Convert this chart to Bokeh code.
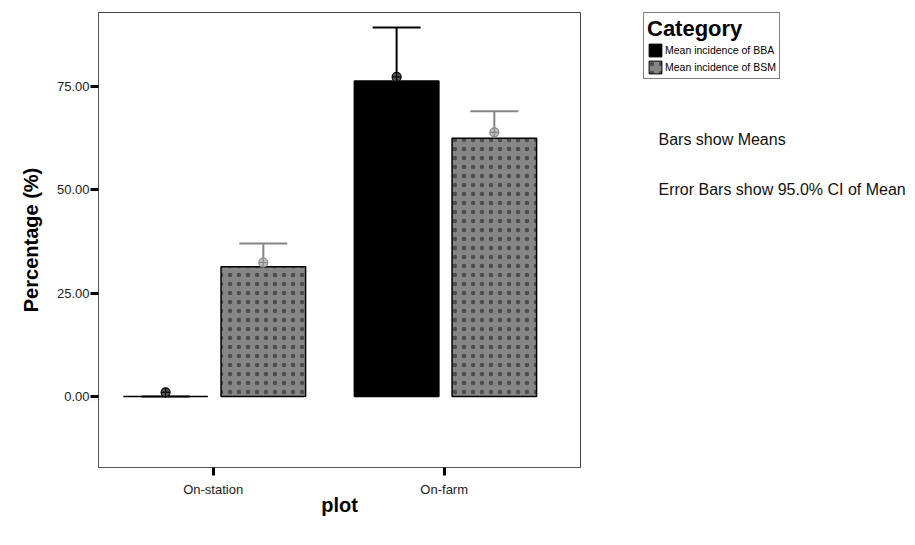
from bokeh.plotting import figure
from bokeh.layouts import row
from bokeh.models import (ColumnDataSource, FixedTicker, Legend, LegendItem, Label,
                          NumeralTickFormatter, Range1d)
from bokeh.embed import file_html
from bokeh.resources import INLINE

# ---- data ----
categories = ["On-station", "On-farm"]
cat_pos = [1, 2]
bba_mean = [0.0, 76.3]
bsm_mean = [31.4, 62.5]
bba_upper = [0.0, 89.3]
bsm_upper = [37.0, 69.0]
bba_marker = [1.0, 77.3]
bsm_marker = [32.4, 63.9]
y_ticks = [0, 25, 50, 75]
series_labels = ["Mean incidence of BBA", "Mean incidence of BSM"]
notes = ["Bars show Means", "Error Bars show 95.0% CI of Mean"]

# ---- styles ----
BAR_W = 0.366
CAP_W = 0.208
OFF_BBA = -0.206
OFF_BSM = 0.217
GREY = "#868686"
FONT = "Liberation Sans"
HATCH = dict(hatch_pattern="dot", hatch_color="#262626", hatch_alpha=0.6, hatch_scale=9)

bba_x = [c + OFF_BBA for c in cat_pos]
bsm_x = [c + OFF_BSM for c in cat_pos]

src_bba = ColumnDataSource(dict(x=bba_x, top=bba_mean, up=bba_upper, mk=bba_marker,
                                x0=[x - CAP_W / 2 for x in bba_x], x1=[x + CAP_W / 2 for x in bba_x]))
src_bsm = ColumnDataSource(dict(x=bsm_x, top=bsm_mean, up=bsm_upper, mk=bsm_marker,
                                x0=[x - CAP_W / 2 for x in bsm_x], x1=[x + CAP_W / 2 for x in bsm_x]))

p = figure(width=600, height=540, output_backend="svg", toolbar_location=None,
           x_range=Range1d(0.5035, 2.590), y_range=Range1d(-17.2, 92.9),
           min_border_left=98, min_border_right=20, min_border_top=12, min_border_bottom=73)
p.background_fill_color = "white"
p.border_fill_color = "white"
p.outline_line_color = "#444444"
p.outline_line_width = 1
p.grid.visible = False

# bars
p.vbar(x="x", top="top", bottom=0, width=BAR_W, source=src_bba,
       fill_color="black", line_color="black", line_width=1.5)
p.vbar(x="x", top="top", bottom=0, width=BAR_W, source=src_bsm,
       fill_color=GREY, line_color="black", line_width=1.5, **HATCH)

# error bars (upper part visible above the bar)
p.segment(x0="x", y0="top", x1="x", y1="up", source=src_bba, line_color="black", line_width=2)
p.segment(x0="x0", y0="up", x1="x1", y1="up", source=src_bba, line_color="black", line_width=2)
p.segment(x0="x", y0="top", x1="x", y1="up", source=src_bsm, line_color=GREY, line_width=2)
p.segment(x0="x0", y0="up", x1="x1", y1="up", source=src_bsm, line_color=GREY, line_width=2)
p.scatter(x="x", y="mk", source=src_bba, marker="circle_cross", size=9,
          fill_color="#555555", line_color="black", line_width=1.2)
p.scatter(x="x", y="mk", source=src_bsm, marker="circle_cross", size=9,
          fill_color="#bbbbbb", line_color="#8a8a8a", line_width=1.2)

# axes
p.yaxis.ticker = FixedTicker(ticks=y_ticks)
p.yaxis.formatter = NumeralTickFormatter(format="0.00")
p.xaxis.ticker = FixedTicker(ticks=cat_pos)
p.xaxis.major_label_overrides = {c: n for c, n in zip(cat_pos, categories)}
for ax in (p.xaxis, p.yaxis):
    ax.axis_line_color = "#555555"
    ax.axis_line_width = 1
    ax.major_tick_line_color = "black"
    ax.major_tick_line_width = 3
    ax.major_tick_in = 0
    ax.major_tick_out = 8
    ax.minor_tick_line_color = None
    ax.major_label_text_font = FONT
    ax.major_label_text_font_size = "13px"
    ax.major_label_text_color = "#222222"
    ax.axis_label_text_font = FONT
    ax.axis_label_text_font_style = "bold"
    ax.axis_label_text_font_size = "20px"
    ax.axis_label_text_color = "black"
p.yaxis.axis_label = "Percentage (%)"
p.xaxis.axis_label = "plot"
p.yaxis.major_label_standoff = 1
p.yaxis.axis_label_standoff = 12
p.xaxis.major_label_standoff = 6
p.xaxis.axis_label_standoff = -6

# ---- side panel with legend and notes ----
q = figure(width=310, height=540, output_backend="svg", toolbar_location=None,
           x_axis_location=None, y_axis_location=None,
           x_range=Range1d(0, 1), y_range=Range1d(0, 1),
           min_border_left=43, min_border_right=0, min_border_top=12, min_border_bottom=73)
q.outline_line_color = None
q.grid.visible = False
q.border_fill_color = "white"
q.background_fill_color = "white"
# legend-only renderers (their single point lies outside the panel's ranges)
hidden_a = ColumnDataSource(dict(x=[9], top=[9]))
hidden_b = ColumnDataSource(dict(x=[9], top=[9]))
la = q.vbar(x="x", top="top", bottom=8, width=0.1, source=hidden_a,
            fill_color="black", line_color="black", line_width=1)
lb = q.vbar(x="x", top="top", bottom=8, width=0.1, source=hidden_b,
            fill_color=GREY, line_color="black", line_width=1, **HATCH)

legend = Legend(items=[LegendItem(label=series_labels[0], renderers=[la]),
                       LegendItem(label=series_labels[1], renderers=[lb])],
                location="top_left", title="Category",
                title_text_font=FONT, title_text_font_style="bold", title_text_font_size="22px",
                title_text_color="black", title_standoff=0,
                label_text_font=FONT, label_text_font_size="10.5px", label_standoff=2,
                label_text_color="black",
                glyph_width=16, glyph_height=16, spacing=1, padding=3, margin=0,
                label_height=16,
                border_line_color="black", border_line_width=1, background_fill_color="white")
q.add_layout(legend, "center")

for txt, ys in zip(notes, [328, 278]):
    q.add_layout(Label(x=15, y=ys, x_units="screen", y_units="screen", text=txt,
                       text_font=FONT, text_font_size="16px", text_baseline="middle",
                       text_color="#111111"))

layout = row(p, q)
open("out.html", "w").write(file_html(layout, INLINE))
